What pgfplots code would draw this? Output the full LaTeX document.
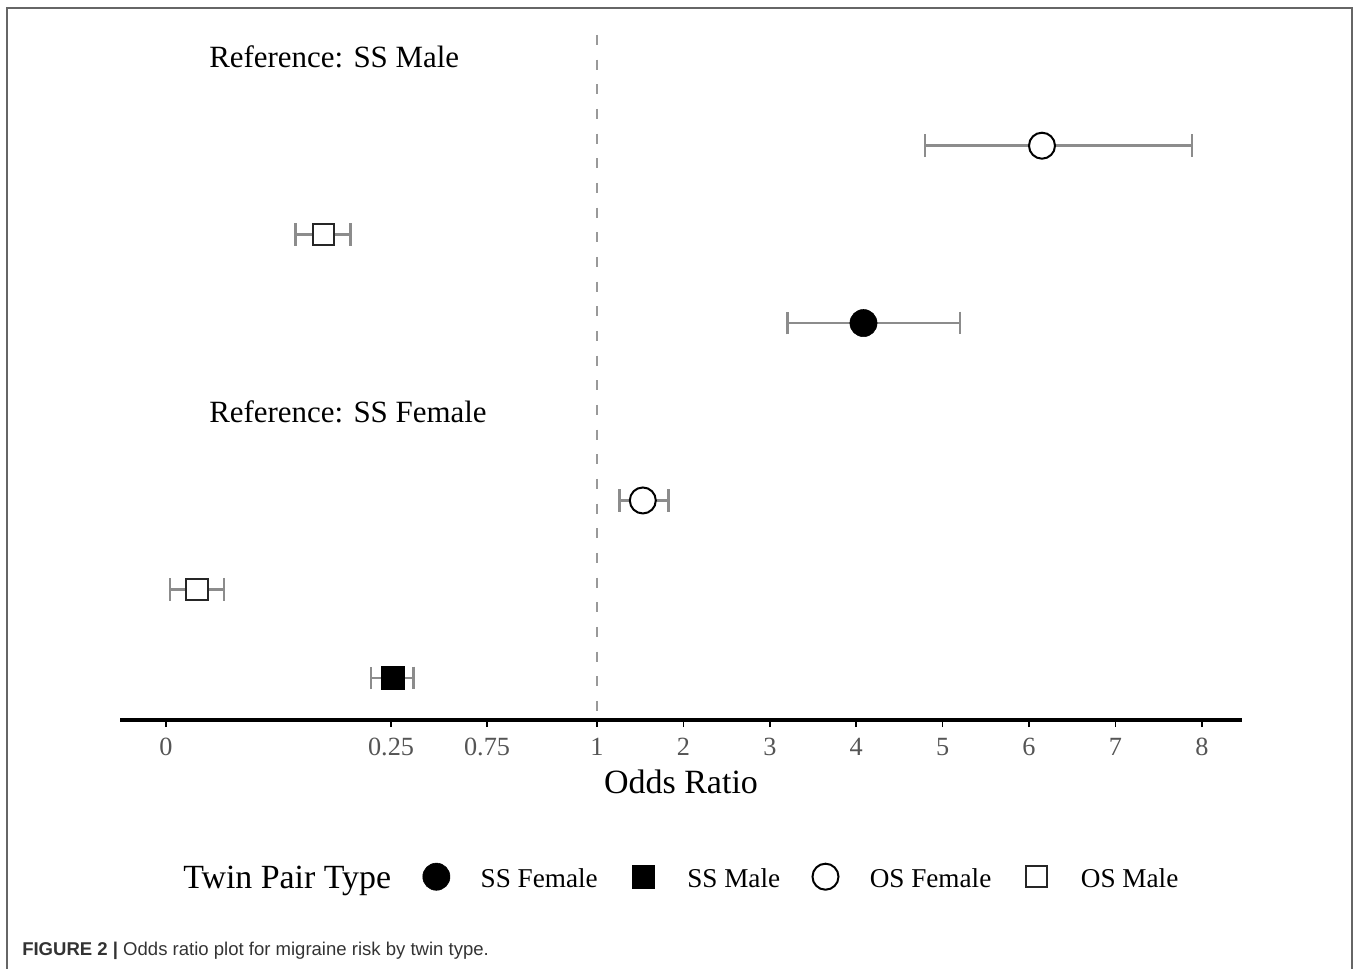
\documentclass[border=0pt]{standalone}
\usepackage{pgfplots}
\usepackage{pgfplotstable}
\pgfplotsset{compat=1.18}
\usepackage{fontspec}
\setmainfont{Liberation Serif}
\newfontfamily\capfont{Liberation Sans}
\definecolor{barcol}{HTML}{8C8C8C}
\definecolor{tickcol}{HTML}{555555}
\definecolor{dashcol}{HTML}{999999}
\definecolor{framecol}{HTML}{666666}
\definecolor{capcol}{HTML}{333333}

% display position on the odds-ratio axis (1 = reference line), row (negative = down)
\pgfplotstableread{
x      y   lo     hi
6.150  -1  4.796  7.887
1.530  -5  1.258  1.825
}\osfemale
\pgfplotstableread{
x      y   lo     hi
-2.171 -2  -2.487 -1.851
-3.630 -6  -3.942 -3.317
}\osmale
\pgfplotstableread{
x      y   lo     hi
4.084  -3  3.203  5.201
}\ssfemale
\pgfplotstableread{
x      y   lo     hi
-1.365 -7  -1.616 -1.126
}\ssmale

\begin{document}
\begin{tikzpicture}
\path[use as bounding box] (0,0) rectangle (1017.75pt,726pt);
\draw[framecol, line width=0.9pt] (5.25pt,-1pt) -- (5.25pt,720pt) -- (1014pt,720pt) -- (1014pt,-1pt);
\node[anchor=base west, inner sep=0pt, text=capcol,
      font=\capfont\fontsize{13.9pt}{16pt}\selectfont] at (16.5pt,9.75pt)
  {\textbf{FIGURE 2 |} Odds ratio plot for migraine risk by twin type.};
\begin{axis}[
  at={(90pt,186pt)}, anchor=south west,
  scale only axis, width=841.5pt, height=513.75pt,
  xmin=-4.521, xmax=8.465, ymin=-7.475, ymax=0.248,
  axis x line=bottom, axis y line=none,
  x axis line style={-, line width=2.3pt, black},
  xtick={-3.988,-1.384,-0.273,1,2,3,4,5,6,7,8},
  xticklabels={0,0.25,0.75,1,2,3,4,5,6,7,8},
  tick align=outside, major tick length=5.25pt,
  xtick style={line width=1.2pt, black},
  xticklabel style={font=\fontsize{19.7pt}{22pt}\selectfont, text=tickcol, anchor=north, inner sep=0pt, yshift=-8.25pt},
  xlabel={Odds Ratio},
  xlabel style={at={(axis description cs:0.5,0)}, anchor=center, yshift=-46.5pt, font=\fontsize{25.5pt}{28pt}\selectfont},
  clip=false,
  error bars/error bar style={line width=2pt, barcol},
  error bars/error mark options={rotate=90, line width=2pt, barcol, mark size=8.5pt},
  legend columns=-1,
  legend style={draw=none, fill=none, at={(axis description cs:0.05615,-0.2292)}, anchor=west,
    inner sep=0pt, column sep=0pt, nodes={inner sep=0pt, font=\fontsize{20.4pt}{24pt}\selectfont},
    /tikz/every even column/.append style={column sep=23.25pt}},
  legend image code/.code={\draw[#1] plot coordinates {(0pt,1.5pt)}; \path (-10.5pt,1.5pt) (33pt,1.5pt);},
]
% reference line
\addplot[forget plot, dashcol, line width=1.9pt, dash pattern=on 7.5pt off 11pt] coordinates {(1,0.248) (1,-7.475)};
% error bars
\addplot[forget plot, draw=none, mark=none, error bars/.cd, x dir=both, x explicit]
  table[x=x, y=y, x error plus expr=\thisrow{hi}-\thisrow{x}, x error minus expr=\thisrow{x}-\thisrow{lo}] {\osfemale};
\addplot[forget plot, draw=none, mark=none, error bars/.cd, x dir=both, x explicit]
  table[x=x, y=y, x error plus expr=\thisrow{hi}-\thisrow{x}, x error minus expr=\thisrow{x}-\thisrow{lo}] {\osmale};
\addplot[forget plot, draw=none, mark=none, error bars/.cd, x dir=both, x explicit]
  table[x=x, y=y, x error plus expr=\thisrow{hi}-\thisrow{x}, x error minus expr=\thisrow{x}-\thisrow{lo}] {\ssfemale};
\addplot[forget plot, draw=none, mark=none, error bars/.cd, x dir=both, x explicit]
  table[x=x, y=y, x error plus expr=\thisrow{hi}-\thisrow{x}, x error minus expr=\thisrow{x}-\thisrow{lo}] {\ssmale};
% markers
\addplot[forget plot, only marks, mark=*, mark size=9.75pt, mark options={draw=black, fill=white, line width=1.5pt}] table[x=x,y=y] {\osfemale};
\addplot[forget plot, only marks, mark=square*, mark size=7.9pt, mark options={draw=black!85, fill=white, line width=1.5pt, rounded corners=1.5pt}] table[x=x,y=y] {\osmale};
\addplot[forget plot, only marks, mark=*, mark size=10.2pt, mark options={draw=black, fill=black}] table[x=x,y=y] {\ssfemale};
\addplot[forget plot, only marks, mark=square*, mark size=8.4pt, mark options={draw=black, fill=black, rounded corners=1.5pt}] table[x=x,y=y] {\ssmale};
% labels
\node[anchor=west, inner sep=0pt, font=\fontsize{23.2pt}{26pt}\selectfont] at (axis cs:-3.491,0) {Reference: SS Male};
\node[anchor=west, inner sep=0pt, font=\fontsize{23.2pt}{26pt}\selectfont] at (axis cs:-3.491,-4) {Reference: SS Female};
% legend
\addlegendimage{empty legend}
\addlegendentry{\fontsize{25.4pt}{28pt}\selectfont Twin Pair Type}
\addlegendimage{only marks, mark=*, mark size=10.2pt, mark options={draw=black, fill=black}}
\addlegendentry{SS Female}
\addlegendimage{only marks, mark=square*, mark size=8.4pt, mark options={draw=black, fill=black}}
\addlegendentry{SS Male}
\addlegendimage{only marks, mark=*, mark size=9.75pt, mark options={draw=black, fill=white, line width=1.5pt}}
\addlegendentry{OS Female}
\addlegendimage{only marks, mark=square*, mark size=7.9pt, mark options={draw=black!85, fill=white, line width=1.5pt}}
\addlegendentry{OS Male}
\end{axis}
\end{tikzpicture}
\end{document}
